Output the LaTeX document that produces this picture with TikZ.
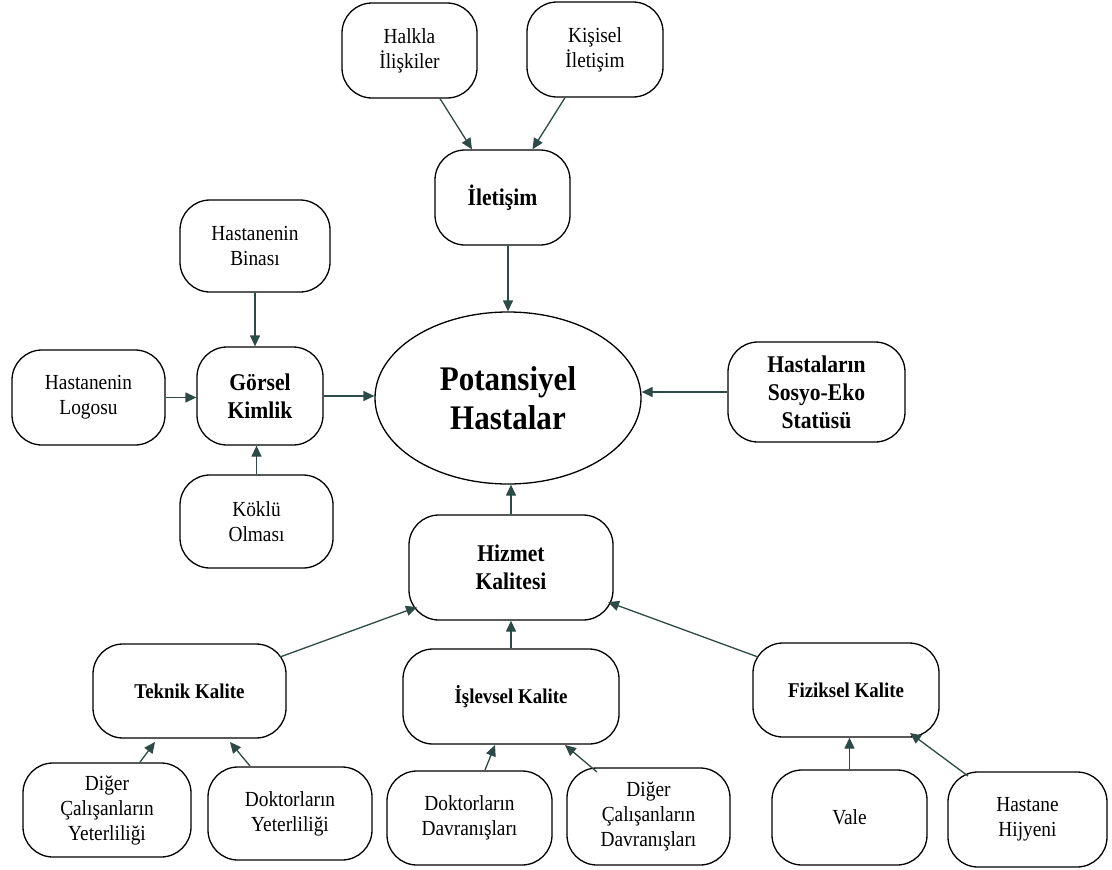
\documentclass[tikz,border=0pt]{standalone}
\usepackage{fontspec}
\setmainfont{Liberation Serif}[FakeStretch=0.9]
\usetikzlibrary{arrows.meta,shapes.geometric,calc}
\definecolor{linkc}{RGB}{46,74,70}
\begin{document}
\begin{tikzpicture}[x=1pt,y=-1pt,
  box/.style={draw=black, line width=1.3pt, rounded corners=30pt, align=center,
              inner sep=0pt, fill=white},
  wh/.style 2 args={minimum width=#1pt, minimum height=#2pt},
  plain/.style={font=\fontsize{21.5}{25}\selectfont},
  head/.style={font=\bfseries\fontsize{24}{28}\selectfont},
  sub/.style={font=\bfseries\fontsize{21}{25}\selectfont},
  link/.style={draw=linkc, line width=1.3pt, -{Triangle[length=11pt,width=10pt]}},
]
\fill[white] (0,0) rectangle (1112,870);
\useasboundingbox (0,0) rectangle (1112,870);

% centre
\node[ellipse, draw=black, line width=1.3pt, wh={266}{172}, inner sep=0pt, align=center,
      font=\bfseries\fontsize{34.5}{39}\selectfont] (pot) at (508,398) {Potansiyel\\Hastalar};

% communication branch
\node[box,plain,wh={135}{95}] (hal)  at (409.5,50.5) {Halkla\\İlişkiler};
\node[box,plain,wh={136}{95}] (kis)  at (595,49.5)   {Kişisel\\İletişim};
\node[box,head,wh={135}{95}]  (ilet) at (502.5,197.5) {İletişim};

% visual identity branch
\node[box,plain,wh={150}{92}] (bin)  at (255,246)    {Hastanenin\\Binası};
\node[box,head,wh={126}{98}]  (gor)  at (260,396)    {Görsel\\Kimlik};
\node[box,plain,wh={153}{95}] (logo) at (88.5,397.5) {Hastanenin\\Logosu};
\node[box,plain,wh={153}{93}] (kok)  at (256.5,521.5) {Köklü\\Olması};

% socio-economic status
\node[box,head,wh={177}{100}] (sos)  at (816.5,392)  {Hastaların\\Sosyo-Eko\\Statüsü};

% service quality branch
\node[box,head,wh={204}{105}] (hiz)  at (511,567.5)  {Hizmet\\Kalitesi};
\node[box,sub,wh={193}{94}]   (tek)  at (189.5,691)  {Teknik Kalite};
\node[box,sub,wh={216}{95}]   (isl)  at (511,696.5)  {İşlevsel Kalite};
\node[box,sub,wh={186}{94}]   (fiz)  at (846,690)    {Fiziksel Kalite};

\node[box,plain,wh={168}{94}] (dy)   at (107,810)    {Diğer\\Çalışanların\\Yeterliliği};
\node[box,plain,wh={164}{93}] (dky)  at (290,813.5)  {Doktorların\\Yeterliliği};
\node[box,plain,wh={165}{94}] (dkd)  at (469.5,818)  {Doktorların\\Davranışları};
\node[box,plain,wh={163}{97}] (dd)   at (648.5,816.5) {Diğer\\Çalışanların\\Davranışları};
\node[box,plain,wh={155}{95}] (vale) at (849.5,817.5) {Vale};
\node[box,plain,wh={159}{95}] (hij)  at (1027.5,819.5) {Hastane\\Hijyeni};

% connectors
\draw[link] ($(hal.south)+(30.5,0)$) -- ($(ilet.north)+(-30.5,0)$);
\draw[link] ($(kis.south)+(-30,0)$) -- ($(ilet.north)+(30,0)$);
\draw[link] (pot.north |- ilet.south) -- (pot.north);

\draw[link] (bin.south) -- (bin.south |- gor.north);
\draw[link] (kok.north) -- (kok.north |- gor.south);
\draw[link] (logo.east) -- (logo.east -| gor.west);
\draw[link] (gor.east) -- (gor.east -| pot.west);
\draw[link] (sos.west) -- (sos.west -| pot.east);

\draw[link] (hiz.north) -- (hiz.north |- pot.south);
\draw[link] ($(tek.center)+(90.5,-34)$) -- ($(hiz.center)+(-94,39.5)$);
\draw[link] (isl.north) -- (isl.north |- hiz.south);
\draw[link] ($(fiz.center)+(-88,-33)$) -- ($(hiz.center)+(97,34.5)$);

\draw[link] ($(dy.center)+(33,-48)$) -- ($(tek.center)+(-34.5,51)$);
\draw[link] ($(dky.center)+(-40,-47.5)$) -- ($(tek.center)+(40.5,51)$);
\draw[link] ($(dkd.center)+(15.5,-48)$) -- ($(isl.center)+(-16,48.5)$);
\draw[link] ($(dd.center)+(-51.5,-44.5)$) -- ($(isl.center)+(54,48.5)$);
\draw[link] (vale.north) -- (vale.north |- fiz.south);
\draw[link] ($(hij.center)+(-59.5,-43.5)$) -- ($(fiz.center)+(64,43)$);
\end{tikzpicture}
\end{document}
